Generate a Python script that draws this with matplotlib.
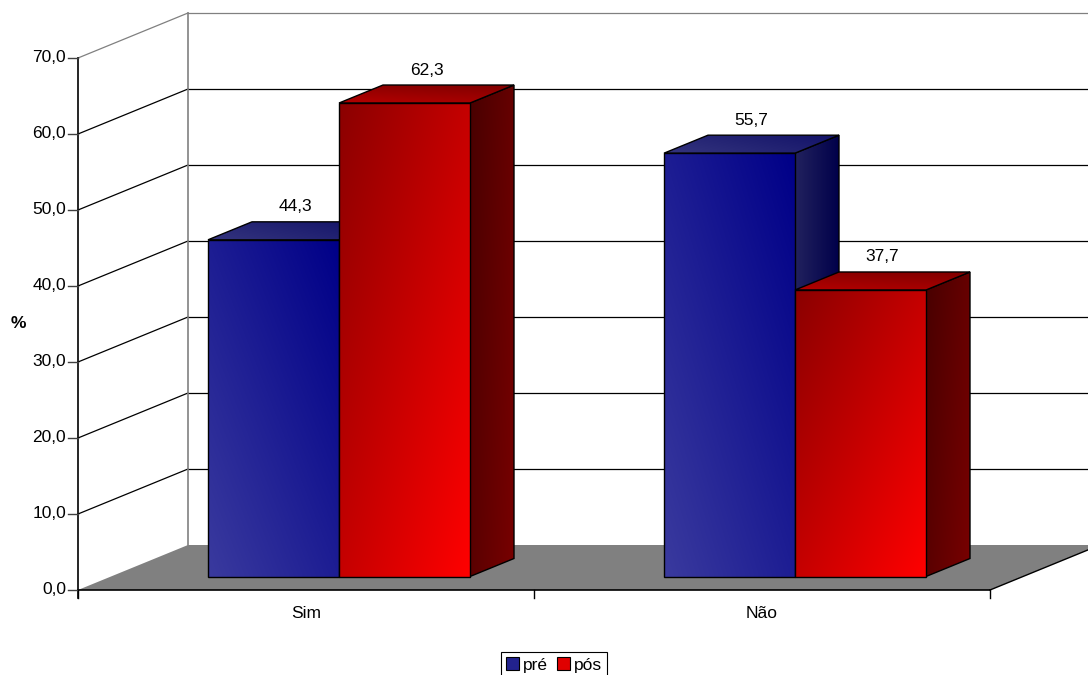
import numpy as np
import matplotlib.pyplot as plt
from matplotlib.patches import Polygon, Patch
from matplotlib.colors import to_rgb

plt.rcParams['font.family'] = ['Liberation Sans', 'DejaVu Sans']

# ------------------------------------------------------------
# dados
# ------------------------------------------------------------
categories = ['Sim', 'Não']
series_names = ['pré', 'pós']
pre_values = [44.3, 55.7]
pos_values = [62.3, 37.7]
y_ticks = [0, 10, 20, 30, 40, 50, 60, 70]

# ------------------------------------------------------------
# geometria da "caixa" 3D (em pixels da figura)
# ------------------------------------------------------------
W, H = 1088, 675
ORIG_X, ORIG_Y = 78, 590     # canto frontal esquerdo do chão
PX_CAT = 456.0               # pixels por categoria
PX_PCT = 7.6                 # pixels por ponto percentual
DEPTH_PX = (110, 45)         # deslocamento da parede do fundo

DX = DEPTH_PX[0] / PX_CAT
DY = DEPTH_PX[1] / PX_PCT
BAR_W = 131 / PX_CAT
D0, D1 = 0.3, 0.7            # profundidade das barras (fração)

STYLES = {
    'pré': dict(front=('#3a3a9e', '#000088', 1, 1),
                side=('#22225e', '#00004a', 1, 0),
                top=('#34347e', '#121268', 1, 0.5),
                legend='#22228e'),
    'pós': dict(front=('#8b0000', '#ff0000', 1, -1),
                side=('#480000', '#780000', 1, -0.6),
                top=('#b40000', '#800000', 0.4, 1),
                legend='#e00000'),
}


def px(dx):
    return dx / PX_CAT


def py(dy):
    return dy / PX_PCT


def shade_face(ax, verts, c0, c1, wu, wv, z):
    verts = np.asarray(verts, dtype=float)
    xmin, ymin = verts.min(axis=0)
    xmax, ymax = verts.max(axis=0)
    u, v = np.meshgrid(np.linspace(0, 1, 80), np.linspace(0, 1, 80))
    t = wu * u + wv * v
    t = (t - t.min()) / (t.max() - t.min())
    a, b = np.array(to_rgb(c0)), np.array(to_rgb(c1))
    img = (1 - t)[..., None] * a + t[..., None] * b
    im = ax.imshow(img, extent=(xmin, xmax, ymin, ymax), origin='lower',
                   aspect='auto', interpolation='bilinear', zorder=z)
    poly = Polygon(verts, closed=True, facecolor='none', edgecolor='black',
                   linewidth=1.0, joinstyle='miter', zorder=z + 0.1)
    ax.add_patch(poly)
    im.set_clip_path(poly)


def draw_bar(ax, xl, value, style, z):
    xr = xl + BAR_W
    ox0, oy0 = D0 * DX, D0 * DY
    ox1, oy1 = D1 * DX, D1 * DY
    side = [(xr + ox0, oy0), (xr + ox1, oy1), (xr + ox1, value + oy1), (xr + ox0, value + oy0)]
    top = [(xl + ox0, value + oy0), (xr + ox0, value + oy0),
           (xr + ox1, value + oy1), (xl + ox1, value + oy1)]
    front = [(xl + ox0, oy0), (xr + ox0, oy0), (xr + ox0, value + oy0), (xl + ox0, value + oy0)]
    shade_face(ax, side, *style['side'], z)
    shade_face(ax, top, *style['top'], z + 0.2)
    shade_face(ax, front, *style['front'], z + 0.4)
    # rótulo do valor sobre a face superior
    cx = xl + BAR_W / 2 + 0.5 * (D0 + D1) * DX
    ax.text(cx, value + oy1 + py(15), f'{value:.1f}'.replace('.', ','),
            ha='center', va='center', fontsize=12.5, color='black', zorder=20)


fig = plt.figure(figsize=(W / 100, H / 100), dpi=100)
fig.patch.set_facecolor('white')
ax = fig.add_axes([0, 0, 1, 1])
ax.axis('off')

x_lo = -0.5 - ORIG_X / PX_CAT
x_hi = -0.5 + (W - ORIG_X) / PX_CAT
y_lo = -(H - ORIG_Y) / PX_PCT
y_hi = ORIG_Y / PX_PCT

x_front_l, x_front_r = -0.5, len(categories) - 0.5
x_back_l = x_front_l + DX

# paredes: grade do fundo e da lateral
for t in y_ticks[1:]:
    col = '#808080' if t == y_ticks[-1] else 'black'
    ax.plot([x_front_l, x_back_l], [t, t + DY], color=col, lw=0.9, zorder=1)
    ax.plot([x_back_l, x_hi + 1], [t + DY, t + DY], color=col, lw=0.9, zorder=1)
ax.plot([x_back_l, x_back_l], [DY, y_ticks[-1] + DY], color='#808080', lw=1.2, zorder=1)

# chão
floor = Polygon([(x_front_l, 0), (x_front_r, 0), (x_front_r + DX, DY), (x_back_l, DY)],
                closed=True, facecolor='#808080', edgecolor='none', zorder=2)
ax.add_patch(floor)
ax.plot([x_front_r, x_front_r + DX], [0, DY], color='black', lw=1.0, zorder=3)

# eixos
ax.plot([x_front_l, x_front_l], [-py(8), y_ticks[-1]], color='black', lw=1.2, zorder=3)
ax.plot([x_front_l, x_front_r], [0, 0], color='black', lw=1.2, zorder=3)
for t in y_ticks:
    ax.plot([x_front_l - px(10), x_front_l], [t, t], color='#404040', lw=1.0, zorder=3)
    ax.text(x_front_l - px(12), t, f'{t:.1f}'.replace('.', ','),
            ha='right', va='center', fontsize=12.5, color='black')
for i in range(len(categories) + 1):
    xt = x_front_l + i
    ax.plot([xt, xt], [0, -py(8)], color='black', lw=1.0, zorder=3)
for i, cat in enumerate(categories):
    ax.text(i, -py(23), cat, ha='center', va='center', fontsize=12.5, color='black')

ax.text(x_front_l - px(60), py(ORIG_Y - 323), '%', ha='center', va='center',
        fontsize=12.5, fontweight='bold', color='black')

# barras
z = 5
for i in range(len(categories)):
    draw_bar(ax, i - BAR_W, pre_values[i], STYLES['pré'], z)
    draw_bar(ax, i, pos_values[i], STYLES['pós'], z + 1)
    z += 2

ax.set_xlim(x_lo, x_hi)
ax.set_ylim(y_lo, y_hi)

handles = [Patch(facecolor=STYLES[s]['legend'], edgecolor='black', linewidth=0.8)
           for s in series_names]
leg = fig.legend(handles, series_names, ncol=2, loc='upper center',
                 bbox_to_anchor=(554 / W, 1 - 652 / H), frameon=True, fancybox=False,
                 edgecolor='black', framealpha=1, borderpad=0.3, borderaxespad=0,
                 handlelength=0.75, handleheight=0.75, handletextpad=0.25,
                 columnspacing=0.5, fontsize=12.5)
leg.get_frame().set_linewidth(0.8)

fig.savefig('out.png', dpi=100, facecolor='white')
